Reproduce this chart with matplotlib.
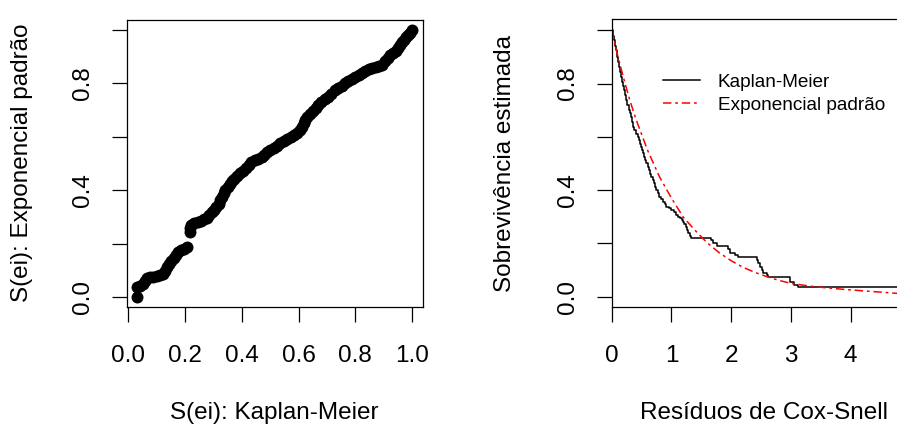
import numpy as np
import matplotlib
matplotlib.use("Agg")
import matplotlib.pyplot as plt

plt.rcParams['font.family'] = ['Liberation Sans', 'DejaVu Sans']

# painel esquerdo: S(ei) Kaplan-Meier x S(ei) exponencial padrao
km_s = [0.032, 0.029, 0.040, 0.050, 0.058, 0.066, 0.076, 0.088, 0.100, 0.112,
        0.122, 0.130, 0.136, 0.144, 0.152, 0.160, 0.168, 0.176, 0.186, 0.196,
        0.206, 0.217, 0.218, 0.222, 0.232, 0.244, 0.256, 0.268, 0.278, 0.286,
        0.294, 0.302, 0.310, 0.318, 0.324, 0.330, 0.336, 0.342, 0.350, 0.358,
        0.366, 0.374, 0.384, 0.394, 0.404, 0.414, 0.424, 0.434, 0.446, 0.458,
        0.470, 0.480, 0.490, 0.500, 0.512, 0.524, 0.536, 0.548, 0.560, 0.572,
        0.584, 0.596, 0.606, 0.614, 0.618, 0.622, 0.630, 0.640, 0.650, 0.660,
        0.670, 0.680, 0.692, 0.704, 0.716, 0.728, 0.740, 0.752, 0.764, 0.776,
        0.788, 0.800, 0.812, 0.824, 0.836, 0.848, 0.860, 0.872, 0.884, 0.896,
        0.906, 0.914, 0.924, 0.934, 0.944, 0.952, 0.958, 0.964, 0.972, 0.980,
        0.987, 0.993, 1.000]
exp_s = [0.000, 0.040, 0.044, 0.050, 0.062, 0.072, 0.074, 0.077, 0.079, 0.082,
         0.086, 0.100, 0.114, 0.124, 0.136, 0.146, 0.158, 0.170, 0.176, 0.181,
         0.187, 0.245, 0.258, 0.270, 0.277, 0.283, 0.287, 0.292, 0.298, 0.308,
         0.318, 0.326, 0.336, 0.350, 0.362, 0.376, 0.390, 0.402, 0.412, 0.424,
         0.434, 0.444, 0.454, 0.464, 0.472, 0.484, 0.496, 0.506, 0.512, 0.518,
         0.524, 0.532, 0.542, 0.550, 0.557, 0.566, 0.576, 0.584, 0.592, 0.600,
         0.608, 0.616, 0.626, 0.636, 0.650, 0.664, 0.674, 0.684, 0.696, 0.708,
         0.718, 0.730, 0.740, 0.750, 0.762, 0.774, 0.784, 0.792, 0.800, 0.808,
         0.816, 0.824, 0.832, 0.840, 0.848, 0.852, 0.856, 0.860, 0.864, 0.870,
         0.882, 0.896, 0.906, 0.914, 0.922, 0.932, 0.944, 0.956, 0.964, 0.972,
         0.981, 0.990, 1.000]

# painel direito: curva de Kaplan-Meier dos residuos
km_t = [0.000, 0.020, 0.040, 0.060, 0.075, 0.095, 0.110, 0.125, 0.140, 0.155,
        0.175, 0.195, 0.210, 0.225, 0.240, 0.260, 0.285, 0.305, 0.325, 0.340,
        0.355, 0.380, 0.410, 0.440, 0.465, 0.480, 0.495, 0.510, 0.525, 0.545,
        0.565, 0.580, 0.600, 0.620, 0.635, 0.660, 0.690, 0.710, 0.730, 0.750,
        0.775, 0.800, 0.830, 0.860, 0.890, 0.915, 0.960, 1.000, 1.040, 1.080,
        1.110, 1.140, 1.170, 1.190, 1.215, 1.240, 1.260, 1.280, 1.310, 1.330,
        1.670, 1.700, 1.760, 1.950, 1.975, 2.060, 2.115, 2.430, 2.450, 2.480,
        2.510, 2.540, 2.600, 2.620, 2.990, 3.050, 3.120, 5.200]
km_surv = [1.000, 0.980, 0.962, 0.940, 0.925, 0.900, 0.880, 0.862, 0.845, 0.825,
           0.805, 0.790, 0.775, 0.758, 0.738, 0.720, 0.700, 0.688, 0.675, 0.655,
           0.638, 0.625, 0.612, 0.600, 0.588, 0.575, 0.562, 0.550, 0.538, 0.525,
           0.512, 0.500, 0.488, 0.475, 0.462, 0.450, 0.438, 0.425, 0.412, 0.400,
           0.388, 0.375, 0.365, 0.356, 0.346, 0.338, 0.331, 0.325, 0.316, 0.306,
           0.300, 0.294, 0.288, 0.281, 0.272, 0.262, 0.250, 0.238, 0.229, 0.221,
           0.212, 0.202, 0.190, 0.178, 0.163, 0.155, 0.148, 0.138, 0.125, 0.113,
           0.100, 0.090, 0.081, 0.073, 0.056, 0.045, 0.035, 0.035]

# exponencial padrao
ex_t = [0.0, 0.1, 0.2, 0.3, 0.4, 0.5, 0.6, 0.7, 0.8, 0.9, 1.0, 1.2, 1.4, 1.6,
        1.8, 2.0, 2.2, 2.4, 2.6, 2.8, 3.0, 3.3, 3.6, 3.9, 4.2, 4.5, 4.8, 5.1]
ex_surv = [1.000, 0.905, 0.820, 0.740, 0.670, 0.610, 0.550, 0.500, 0.450, 0.410,
           0.370, 0.298, 0.248, 0.202, 0.165, 0.135, 0.110, 0.091, 0.075, 0.061,
           0.050, 0.040, 0.033, 0.027, 0.022, 0.017, 0.012, 0.009]

W, H = 897, 428
fs = 17.5
fig = plt.figure(figsize=(W / 100, H / 100), dpi=100)

def px_axes(l, t, r, b):
    return fig.add_axes([l / W, 1 - b / H, (r - l) / W, (b - t) / H])

def r_style(ax, yticks, ylabels):
    for sp in ax.spines.values():
        sp.set_linewidth(0.9)
        sp.set_color('black')
    ax.tick_params(direction='out', length=10.8, width=0.9, labelsize=fs)
    ax.tick_params(axis='x', pad=16.5)
    ax.tick_params(axis='y', pad=12.5)
    ax.set_yticks(yticks)
    ax.set_yticklabels(ylabels, rotation=90, va='center')

ylab_vals = [0.0, 0.2, 0.4, 0.6, 0.8, 1.0]
ylab_txt = ['0.0', '', '0.4', '', '0.8', '']

# esquerdo
ax1 = px_axes(126.7, 19.5, 422.7, 306.9)
ax1.plot(km_s, exp_s, 'o', color='black', markersize=8.6, markeredgewidth=0)
ax1.set_xlim(-0.006, 1.038)
ax1.set_ylim(-0.036, 1.039)
ax1.set_xticks([0.0, 0.2, 0.4, 0.6, 0.8, 1.0])
ax1.set_xticklabels(['0.0', '0.2', '0.4', '0.6', '0.8', '1.0'])
r_style(ax1, ylab_vals, ylab_txt)
ax1.set_xlabel('S(ei): Kaplan-Meier', fontsize=fs, va='center')
ax1.set_ylabel('S(ei): Exponencial padrão', fontsize=fs, va='center')
ax1.xaxis.set_label_coords(0.5, -0.369)
ax1.yaxis.set_label_coords(-0.3547, 0.5)

# direito
ax2 = px_axes(611.7, 19.4, 916, 307.3)
ax2.step(km_t, km_surv, where='post', color='black', lw=1.1, label='Kaplan-Meier')
ax2.plot(ex_t, ex_surv, color='red', lw=1.1, linestyle=(0, (5.5, 2.5, 1.8, 2.5)),
         label='Exponencial padrão')
ax2.set_xlim(0, 5.095)
ax2.set_ylim(-0.04, 1.041)
ax2.set_xticks([0, 1, 2, 3, 4])
ax2.set_xticklabels(['0', '1', '2', '3', '4'])
r_style(ax2, ylab_vals, ylab_txt)
ax2.set_xlabel('Resíduos de Cox-Snell', fontsize=fs, va='center')
ax2.set_ylabel('Sobrevivência estimada', fontsize=fs, va='center')
ax2.xaxis.set_label_coords(0.5, -0.367)
ax2.yaxis.set_label_coords(-0.3506, 0.5)
ax2.legend(loc='upper left', bbox_to_anchor=(0.1686, 0.812), frameon=False,
           fontsize=13.7, handlelength=1.94, handletextpad=0.95,
           labelspacing=0.3, borderpad=0, borderaxespad=0)

fig.savefig('out.png', dpi=100)
